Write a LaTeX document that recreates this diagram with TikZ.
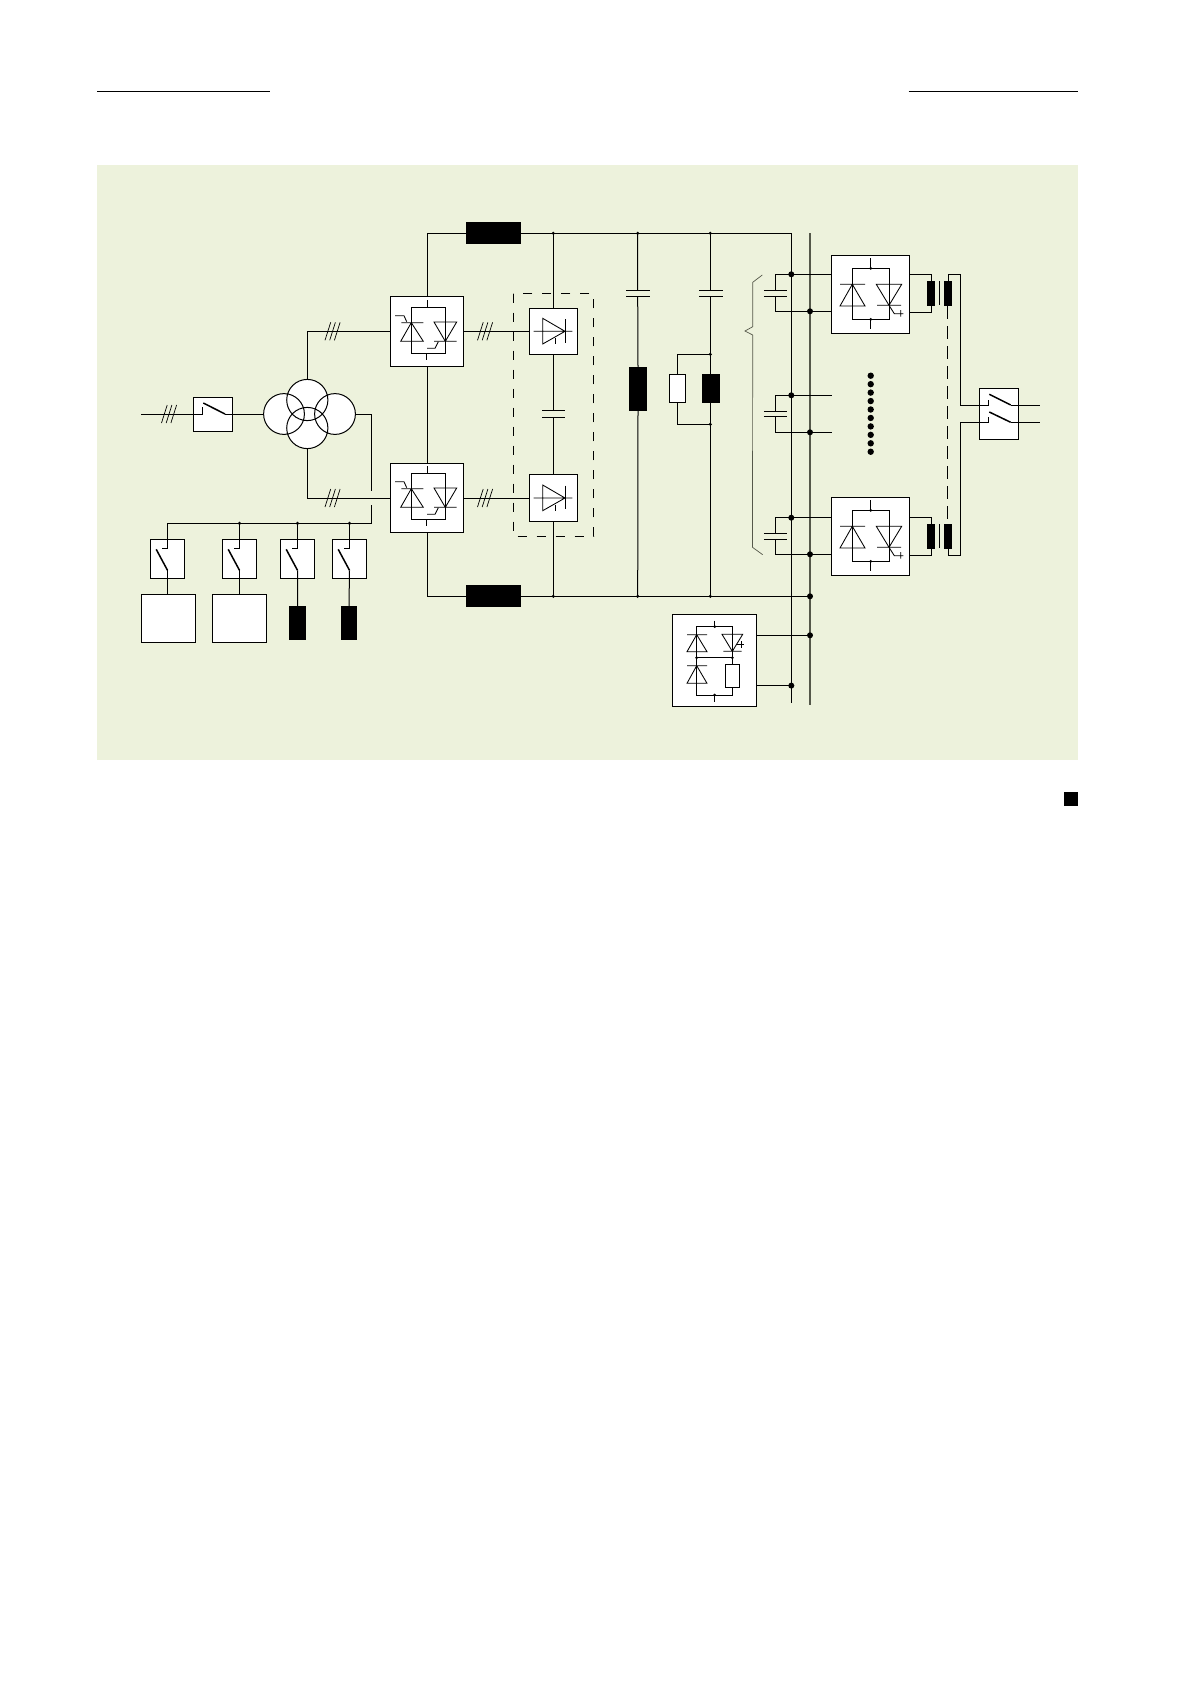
\documentclass[tikz,border=0pt]{standalone}
\definecolor{panel}{HTML}{EDF2DC}
\definecolor{railgrey}{HTML}{55584A}
\tikzset{
  wire/.style={line width=1pt,black},
  thin wire/.style={line width=0.85pt,black},
  wbox/.style={draw=black,fill=white,line width=1pt,inner sep=0pt,outer sep=0pt,rectangle},
  bbox/.style={fill=black,draw=none,inner sep=0pt,outer sep=0pt,rectangle},
  blade/.style={line width=1.5pt,black},
  pics/threephase/.style={code={
    \draw[line width=0.7pt] (-7.5,9)--(-1.8,-9) (-2.8,9)--(2.9,-9) (1.9,9)--(7.6,-9);}},
  pics/rectbridge/.style={code={
    \draw[thin wire] (21,11) rectangle (55.4,57);
    \draw[thin wire] (37,4)--(37,11) (36.4,57)--(36.4,64);
    \draw[thin wire] (11,26.4)--(33,26.4) (21,26.4)--(10.4,45)--(33,45)--cycle;
    \draw[thin wire] (16.4,25.4)--(13.7,19.4)--(4.7,19.4);
    \draw[thin wire] (43.7,25.7)--(66.4,25.7)--(55,45)--cycle (43.7,45)--(66.4,45);
    \draw[thin wire] (48,45.4)--(44.7,52)--(36.7,52);}},
  pics/inverter/.style={code={
    \draw[thin wire] (21,13) rectangle (57.7,64);
    \draw[thin wire] (39.4,3)--(39.4,13) (39.4,64)--(39.4,73.7);
    \fill (39.4,13) circle[radius=1.5pt] (39.4,64) circle[radius=1.5pt];
    \draw[thin wire] (8.7,29)--(33.7,29) (21,29)--(8.7,50.7)--(33.7,50.7)--cycle;
    \draw[thin wire] (45,29)--(70.4,29)--(57.7,50)--cycle (45.7,50)--(69.7,50);
    \draw[thin wire] (57.7,50)--(63,58.4)--(72,58.4) (69.4,54.7)--(69.4,61.4);}},
  pics/diodecell/.style={code={
    \draw[thin wire] (4.4,23)--(43,23) (13.4,10)--(13.4,35.7)--(35.7,23)--cycle;
    \draw[thin wire] (35.7,10.7)--(35.7,34.4) (26,29.7)--(26,35.7);}},
  pics/chopper/.style={code={
    \draw[thin wire] (24.4,12.4) rectangle (60,80.7) (24.4,43.4)--(60,43.4);
    \draw[thin wire] (42.4,6.4)--(42.4,12.4) (42.4,80.7)--(42.4,87.4);
    \fill (42.4,12.4) circle[radius=1.5pt] (42.4,80.7) circle[radius=1.5pt]
      (24.4,43.4) circle[radius=1.5pt] (60,43.4) circle[radius=1.5pt];
    \draw[thin wire] (14.7,20.4)--(34.7,20.4) (24.4,20.4)--(14.7,37.4)--(34.7,37.4)--cycle;
    \draw[thin wire] (14.7,51.4)--(34.7,51.4) (24.4,51.4)--(14.7,69)--(34.7,69)--cycle;
    \draw[thin wire] (49.7,20)--(70.4,20)--(60,37)--cycle (51,37)--(69.4,37);
    \draw[thin wire] (65,30)--(72,30) (68.7,27)--(68.7,33.4);
    \node[wbox,minimum width=14.4pt,minimum height=23.4pt] (chopR) at (60,61.7) {};}},
  pics/vswitch/.style={code={
    \draw[wire] (0,0)--(0,25)--(-6,25);
    \draw[blade] (-11.3,26)--(0,47);}}
}
\newcommand{\bdot}[1]{\fill (#1) circle[radius=3pt];}
\newcommand{\sdot}[1]{\fill (#1) circle[radius=1.7pt];}
\newcommand{\plates}[4]{\draw[wire] (#1-#4,#2)--(#1+#4,#2) (#1-#4,#3)--(#1+#4,#3);}
\begin{document}
\begin{tikzpicture}[x=1pt,y=-1pt]
\useasboundingbox (0,0) rectangle (1190,1684);
\fill[white] (0,0) rectangle (1190,1684);
\fill[panel] (97,165) rectangle (1078,760);
\draw[wire] (97,91.3)--(270,91.3) (908.5,91.3)--(1078,91.3);
\fill[black] (1063.5,792) rectangle (1078,806);

% junctions
\coordinate (inL) at (141,414);
\coordinate (bt1) at (553.3,233.3);
\coordinate (bt2) at (637.7,233.3);
\coordinate (bt3) at (710.3,233.3);
\coordinate (btE) at (791.3,233.3);
\coordinate (bb1) at (553.3,596.3);
\coordinate (bb2) at (637.7,596.3);
\coordinate (bb3) at (710.3,596.3);
\coordinate (bbE) at (810,596.3);
\coordinate (railAbot) at (791.3,703.3);
\coordinate (railBtop) at (810,233.3);
\coordinate (railBbot) at (810,705.3);

% main nodes
\node[wbox,minimum width=39.4pt,minimum height=34pt] (sw0) at (213,414) {};
\node[bbox,minimum width=55pt,minimum height=22pt] (Ltop) at (493.5,233.3) {};
\node[bbox,minimum width=55pt,minimum height=21.7pt] (Lbot) at (493.5,596.3) {};
\node[wbox,minimum width=73pt,minimum height=70pt] (th1) at (427,331.3) {};
\node[wbox,minimum width=73pt,minimum height=69pt] (th2) at (427,498) {};
\node[wbox,minimum width=48.4pt,minimum height=46.4pt] (dc1) at (553.5,331.3) {};
\node[wbox,minimum width=48.4pt,minimum height=46.4pt] (dc2) at (553.5,498) {};
\node[bbox,minimum width=18pt,minimum height=43.7pt] (L2) at (638,388.9) {};
\node[bbox,minimum width=17.7pt,minimum height=28.7pt] (L3) at (711.2,388.4) {};
\node[wbox,minimum width=16.4pt,minimum height=28.4pt] (R3) at (677.5,388.5) {};
\node[wbox,minimum width=78.4pt,minimum height=78pt] (inv1) at (870.5,294.3) {};
\node[wbox,minimum width=78.4pt,minimum height=78pt] (inv2) at (870.5,536.3) {};
\node[wbox,minimum width=84.4pt,minimum height=92.4pt] (chop) at (714.5,660.5) {};
\node[wbox,minimum width=39.4pt,minimum height=51pt] (swR) at (999,413.8) {};
\node[bbox,minimum width=8pt,minimum height=25pt] (T1a) at (931,293.5) {};
\node[bbox,minimum width=8pt,minimum height=25pt] (T1b) at (948,293.5) {};
\node[bbox,minimum width=8pt,minimum height=25pt] (T2a) at (931,536.5) {};
\node[bbox,minimum width=8pt,minimum height=25pt] (T2b) at (948,536.5) {};
\node[wbox,minimum width=34.4pt,minimum height=39.4pt] (s1) at (167.5,559) {};
\node[wbox,minimum width=34.4pt,minimum height=39.4pt] (s2) at (239.5,559) {};
\node[wbox,minimum width=34.4pt,minimum height=39.4pt] (s3) at (297.5,559) {};
\node[wbox,minimum width=34.4pt,minimum height=39.4pt] (s4) at (349.5,559) {};
\node[wbox,minimum width=54.4pt,minimum height=48.4pt] (w1) at (168.5,618.5) {};
\node[wbox,minimum width=54.4pt,minimum height=48.4pt] (w2) at (239.5,618.5) {};
\node[bbox,minimum width=17pt,minimum height=34pt] (b3) at (297.5,623) {};
\node[bbox,minimum width=16pt,minimum height=34pt] (b4) at (349,623) {};

% transformer
\begin{scope}[line width=1pt]
\fill[white] (284,414) circle[radius=20.4pt] (307.3,400) circle[radius=20.6pt]
  (335,414) circle[radius=20.4pt] (307.3,428) circle[radius=20.6pt];
\coordinate (trL) at (263.6,414);
\coordinate (trT) at (307.3,379.4);
\coordinate (trR) at (355.4,414);
\coordinate (trB) at (307.3,448.6);
\draw (284,414) circle[radius=20.4pt] (307.3,400) circle[radius=20.6pt]
  (335,414) circle[radius=20.4pt] (307.3,428) circle[radius=20.6pt];
\end{scope}

% wires, left part
\draw[wire] (inL)--(sw0.west);
\draw[wire] (sw0.east)--(trL);
\draw[wire] (trT)|-(th1.west);
\draw[wire] (trB)|-(th2.west);
\draw[wire] (trR)-|(371.5,490.7);
\coordinate (hopB) at (371.5,505);
\coordinate (busE) at (371.5,523.3);
\draw[wire] (hopB)--(busE)-|(s1.north);
\draw[wire] (th1.east)--(dc1.west);
\draw[wire] (th2.east)--(dc2.west);
\draw[wire] (th1.north)|-(Ltop.west);
\draw[wire] (th1.south)--(th2.north);
\draw[wire] (th2.south)|-(Lbot.west);
\draw[wire] (Ltop.east)--(btE)--(railAbot);
\draw[wire] (Lbot.east)--(bbE);
\draw[line width=1.3pt,railgrey] (railBtop)--(railBbot);

% DC link columns
\draw[wire] (bt1)--(553.3,308.3) (553.3,354.7)--(553.3,410.7) (553.3,417.3)--(553.3,475.3) (553.3,521.7)--(bb1);
\plates{553.5}{410.7}{417.3}{11.5}
\draw[wire] (bt2)--(637.7,290) (637.7,296.7)--(L2.north) (L2.south)--(bb2);
\plates{638}{290}{296.7}{12}
\draw[wire] (bt3)--(710.3,290) (710.3,296.7)--(bb3);
\plates{711}{290}{296.7}{12}
\coordinate (pT) at (710.3,354.3);
\coordinate (pB) at (710.3,424.3);
\draw[wire] (pT)-|(R3.north) (R3.south)|-(pB);
\foreach \c in {bt1,bt2,bt3,bb1,bb2,bb3,pT,pB} {\sdot{\c}}
\draw[wire,dash pattern=on 9.5pt off 9.5pt] (513.3,293.7) rectangle (593.7,536.3);

% brace
\draw[line width=0.7pt,railgrey] (762.3,275)--(752.7,282.3)--(752.7,326.7)--(745,331)--(752.7,335)--(752.5,547.3)--(762.7,554.7);

% capacitor groups
\foreach \ya/\yb/\pa/\pb in {274.3/311.3/290/296.3,395.3/432.3/411.3/416.7,517.7/554.3/533.3/539.3} {
  \draw[wire] (775.3,\ya)--(775.3,\pa) (775.3,\pb)--(775.3,\yb);
  \plates{775.3}{\pa}{\pb}{11.4}
  \draw[wire] (775.3,\ya)--(832,\ya) (775.3,\yb)--(832,\yb);
  \bdot{791.3,\ya}
  \bdot{810,\yb}
}
% redraw inverter bodies above the lines
\node[wbox,minimum width=78.4pt,minimum height=78pt] at (inv1) {};
\node[wbox,minimum width=78.4pt,minimum height=78pt] at (inv2) {};
\bdot{bbE}
\coordinate (chA) at (810,635.3);
\coordinate (chB) at (791.3,685.6);
\draw[wire] (chop.east|-chA)--(chA);
\draw[wire] (chop.east|-chB)--(chB);
\bdot{chA}
\bdot{chB}

% transformers to output switch
\draw[wire] (inv1.east|-0,274.3)-|(T1a.north);
\draw[wire] (inv1.east|-0,312)-|(T1a.south);
\draw[wire] (inv2.east|-0,517.3)-|(T2a.north);
\draw[wire] (inv2.east|-0,555.3)-|(T2a.south);
\draw[wire] (939.3,281)--(939.3,305) (939.3,524)--(939.3,548);
\coordinate (tieT) at (960.7,274);
\coordinate (tieB) at (960.7,555.3);
\draw[wire] (T1b.north)|-(tieT)--(960.7,405)--(swR.west|-0,405);
\draw[wire] (T2b.south)|-(tieB)--(960.7,422.3)--(swR.west|-0,422.3);
\draw[wire,dash pattern=on 13pt off 7pt] (947.5,306)--(947.5,524);

% output switch
\draw[wire] (979.3,405)--(988.3,405)--(988.3,400) (979.3,422.3)--(988.3,422.3)--(988.3,417.3);
\draw[blade] (989.3,394.3)--(1010.7,405);
\draw[blade] (989.3,412)--(1010.7,422.3);
\draw[wire] (1010.7,405)--(1040,405) (1010.7,422.3)--(1040,422.3);

% input switch interior
\draw[wire] (193.5,414)--(202.3,414)--(202.3,407.3);
\draw[blade] (203.3,403)--(225,414);
\draw[wire] (225,414)--(232.7,414);

% inner symbols
\pic at (169,414) {threephase};
\pic at (332.5,331.3) {threephase};
\pic at (332.5,498) {threephase};
\pic at (485,331.3) {threephase};
\pic at (485,498) {threephase};
\pic at (390.3,296.3) {rectbridge};
\pic at (390.3,462.3) {rectbridge};
\pic at (529.3,308.3) {diodecell};
\pic at (529.3,475) {diodecell};
\pic at (831.3,255.3) {inverter};
\pic at (831.3,497.3) {inverter};
\pic at (672.3,614.3) {chopper};

% row of dots
\foreach \k in {0,...,9} {\fill (870.7,375.7+8.45*\k) circle[radius=3.2pt];}

% lower left breakers
\draw[wire] (s2.north|-busE)--(s2.north) (s3.north|-busE)--(s3.north) (s4.north|-busE)--(s4.north);
\foreach \cx in {167.5,239.5,297.5,349.5} {\pic at (\cx,523.3) {vswitch};}
\draw[wire] (167.5,570.3)--(167.5,594.3) (239.5,570.3)--(239.5,594.3);
\draw[wire] (297.5,570.3)--(b3.north) (349.5,570.3)--(b4.north);
\foreach \cx in {239.5,297.5,349.5} {\sdot{\cx,523.3}}
\end{tikzpicture}
\end{document}
